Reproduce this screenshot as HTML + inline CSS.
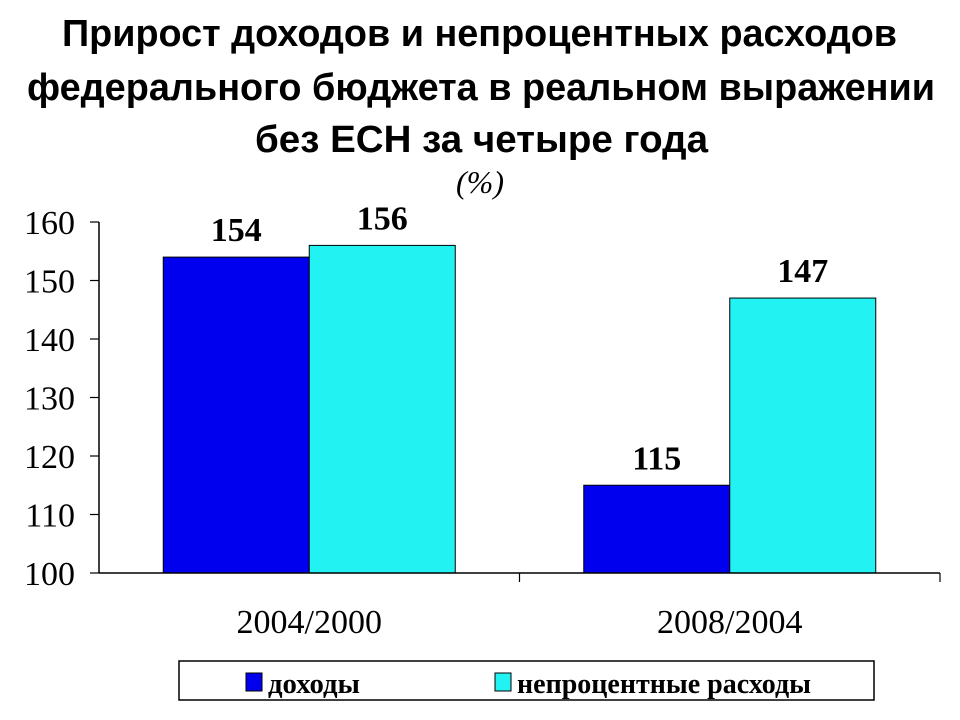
<!DOCTYPE html>
<html><head><meta charset="utf-8"><style>
body{margin:0;background:#fff;width:960px;height:720px;overflow:hidden}
svg{display:block}
</style></head><body>
<svg id="c" width="960" height="720" font-family="'Liberation Serif', 'Noto Serif CJK SC', serif">
<text x="62" y="46" textLength="835" lengthAdjust="spacingAndGlyphs" font-family="'Liberation Sans','Noto Sans CJK SC',sans-serif" font-weight="bold" font-size="38">Прирост доходов и непроцентных расходов</text>
<text x="27" y="100" textLength="908" lengthAdjust="spacingAndGlyphs" font-family="'Liberation Sans','Noto Sans CJK SC',sans-serif" font-weight="bold" font-size="38">федерального бюджета в реальном выражении</text>
<text x="255" y="152" textLength="453" lengthAdjust="spacingAndGlyphs" font-family="'Liberation Sans','Noto Sans CJK SC',sans-serif" font-weight="bold" font-size="38">без ЕСН за четыре года</text>
<text x="480" y="193" text-anchor="middle" font-style="italic" font-size="32">(%)</text>
<g id="plot"></g>
<rect x="179" y="661" width="695" height="39" fill="#fff" stroke="#000" stroke-width="1.5"/>
<rect x="246" y="673" width="16" height="18" fill="#0000ee" stroke="#000"/>
<text x="268" y="693" textLength="92" lengthAdjust="spacingAndGlyphs" font-weight="bold" font-size="29">доходы</text>
<rect x="495" y="673" width="16" height="18" fill="#22f2f2" stroke="#000"/>
<text x="517" y="693" textLength="294" lengthAdjust="spacingAndGlyphs" font-weight="bold" font-size="29">непроцентные расходы</text>
</svg>
<script>
const categories=["2004/2000","2008/2004"];
const income=[154,115];
const expenses=[156,147];
const yTicks=[100,110,120,130,140,150,160];
const NS="http://www.w3.org/2000/svg";
const g=document.getElementById('plot');
const x0=99,x1=940,yTop=222,yBot=573,vMin=100,vMax=160;
function y(v){return yBot-(v-vMin)/(vMax-vMin)*(yBot-yTop);}
const cw=(x1-x0)/categories.length;
function cx(i){return x0+cw*(i+0.5);}
function el(t,a){const e=document.createElementNS(NS,t);for(const k in a)e.setAttribute(k,a[k]);g.appendChild(e);return e;}
yTicks.forEach(v=>{
 const l=el('line',{x1:90,x2:x0,y1:y(v),y2:y(v),stroke:'#000','stroke-width':1.2});
 
 
 const t=el('text',{x:75,y:y(v)+12,'text-anchor':'end','font-size':34});
 t.textContent=v;
 
 
});
const bw=146;
categories.forEach((c,i)=>{
 const series=[[income[i],'#0000ee','bar-income'],[expenses[i],'#22f2f2','bar-expenses']];
 series.forEach((s,j)=>{
  const bx=cx(i)-bw+j*bw;
  const r=el('rect',{x:bx,y:y(s[0]),width:bw,height:yBot-y(s[0]),fill:s[1],stroke:'#000','stroke-width':1});
  
  
  const t=el('text',{x:bx+bw/2,y:y(s[0])-16,'text-anchor':'middle','font-size':34,'font-weight':'bold'});
  t.textContent=s[0];
  
  
 });
 const t=el('text',{x:cx(i),y:633,'text-anchor':'middle','font-size':34});
 t.textContent=c;
 
 
 const tk=el('line',{x1:x0+cw*(i+1),x2:x0+cw*(i+1),y1:yBot,y2:yBot+9,stroke:'#000','stroke-width':1.2});
 
 
});
const ya=el('line',{x1:x0,x2:x0,y1:yTop,y2:yBot,stroke:'#000','stroke-width':1.5});


const xa=el('line',{x1:x0,x2:x1,y1:yBot,y2:yBot,stroke:'#000','stroke-width':1.5});


</script>
</body></html>
